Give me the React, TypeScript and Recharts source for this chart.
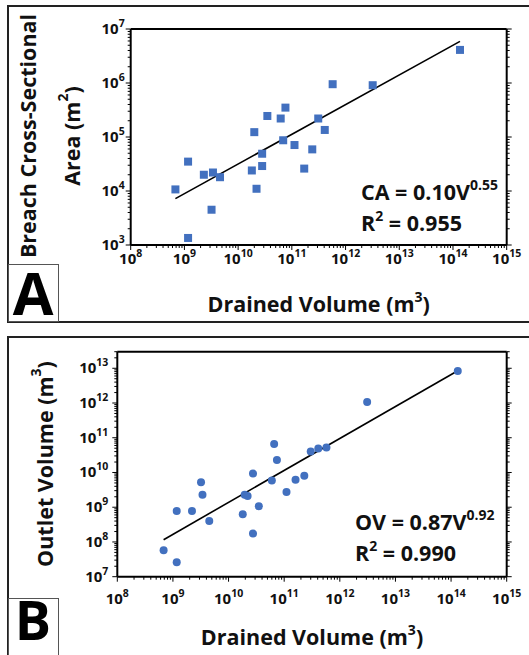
import React from 'react';
import { ScatterChart, Scatter, XAxis, YAxis } from 'recharts';

// ---------- data ----------
const drainedA = [6.8e8, 1.17e9, 2.3e9, 3.4e9, 4.6e9, 3.2e9, 1.17e9, 1.8e10, 2.0e10, 2.2e10, 2.8e10, 2.8e10, 3.5e10, 6.2e10, 6.9e10, 7.6e10, 1.12e11, 1.7e11, 2.4e11, 3.1e11, 4.1e11, 5.75e11, 3.2e12, 1.35e14];
const areaA = [1.07e4, 3.5e4, 2.0e4, 2.2e4, 1.8e4, 4.5e3, 1.35e3, 2.4e4, 1.23e5, 1.1e4, 4.9e4, 2.9e4, 2.45e5, 2.2e5, 8.7e4, 3.5e5, 7.1e4, 2.6e4, 5.9e4, 2.2e5, 1.35e5, 9.5e5, 9.1e5, 4.1e6];

const drainedB = [6.8e8, 1.17e9, 1.17e9, 2.2e9, 3.2e9, 3.4e9, 4.5e9, 1.8e10, 1.95e10, 2.2e10, 2.75e10, 2.75e10, 3.5e10, 6.0e10, 6.6e10, 7.4e10, 1.1e11, 1.6e11, 2.3e11, 3.0e11, 4.1e11, 5.75e11, 3.1e12, 1.32e14];
const outletB = [5.8e7, 2.6e7, 7.8e8, 7.8e8, 5.2e9, 2.3e9, 4.0e8, 6.3e8, 2.3e9, 2.1e9, 1.74e8, 9.3e9, 1.07e9, 5.9e9, 6.6e10, 2.3e10, 2.75e9, 6.2e9, 8.1e9, 4.0e10, 4.9e10, 5.2e10, 1.07e12, 8.3e12];

// fit lines: coefficient, exponent, x-range
const fitA = { coef: 0.10, exp: 0.55, from: 6.8e8, to: 1.35e14 };
const fitB = { coef: 0.87, exp: 0.92, from: 6.8e8, to: 1.32e14 };

const xDomain: [number, number] = [1e8, 1e15];
const yDomainA: [number, number] = [1e3, 1e7];
const yDomainB: [number, number] = [1e7, 3e13];

const xDecades = [8, 15];
const yDecadesA = [3, 7];
const yDecadesB = [7, 14];

// ---------- helpers ----------
const FONT = "'Open Sans', 'Noto Sans', sans-serif";
const BLUE = '#4270bf';

function logTicks(lo: number, hi: number, max: number) {
  const out: number[] = [];
  for (let d = lo; d <= hi; d++) {
    for (let m = 1; m < 10; m++) {
      const v = m * Math.pow(10, d);
      if (v <= max * 1.0001) out.push(v);
      if (d === hi) break;
    }
  }
  return out;
}

function isMajor(v: number) {
  const l = Math.log10(v);
  return Math.abs(l - Math.round(l)) < 1e-6;
}

type TickOpts = { side: 'bottom' | 'left' | 'top' | 'right'; label?: boolean; off?: number; fs?: number };

function makeTick(o: TickOpts) {
  return (props: any) => {
    const { x, y, payload } = props;
    const v = payload.value;
    const major = isMajor(v);
    const len = major ? 5 : 3;
    const e = Math.round(Math.log10(v));
    const fs = o.fs ?? 15;
    let line;
    if (o.side === 'bottom') line = <line x1={x} y1={y} x2={x} y2={y + len} stroke="#000" strokeWidth={1} />;
    else if (o.side === 'top') line = <line x1={x} y1={y} x2={x} y2={y - len} stroke="#000" strokeWidth={1} />;
    else if (o.side === 'left') line = <line x1={x} y1={y} x2={x - len} y2={y} stroke="#000" strokeWidth={1} />;
    else line = <line x1={x} y1={y} x2={x + len} y2={y} stroke="#000" strokeWidth={1} />;
    let label = null;
    if (o.label && major) {
      if (o.side === 'bottom') {
        label = (
          <text x={x} y={y + (o.off ?? 19)} textAnchor="middle" fontFamily={FONT} fontWeight={700} fontSize={fs} fill="#111">
            10<tspan dy={-7} fontSize={fs * 0.7}>{e}</tspan>
          </text>
        );
      } else {
        label = (
          <text x={x - (o.off ?? 7)} y={y + 5} textAnchor="end" fontFamily={FONT} fontWeight={700} fontSize={fs} fill="#111">
            10<tspan dy={-7} fontSize={fs * 0.7}>{e}</tspan>
          </text>
        );
      }
    }
    return (
      <g>
        {line}
        {label}
      </g>
    );
  };
}

const Square = (p: any) => <rect x={p.cx - 4} y={p.cy - 4} width={8} height={8} fill={BLUE} />;
const Dot = (p: any) => <circle cx={p.cx} cy={p.cy} r={4} fill={BLUE} />;
const NoShape = () => <g />;

const axisLine = { stroke: '#000', strokeWidth: 2 };

type PanelProps = {
  xs: number[];
  ys: number[];
  fit: { coef: number; exp: number; from: number; to: number };
  yDomain: [number, number];
  yDec: number[];
  margin: { top: number; right: number; bottom: number; left: number };
  height: number;
  shape: any;
  xOff: number;
  yOff: number;
  fs: number;
};

function Panel(p: PanelProps) {
  const data = p.xs.map((x, i) => ({ x, y: p.ys[i] }));
  const fitData = [p.fit.from, p.fit.to].map((x) => ({ x, y: p.fit.coef * Math.pow(x, p.fit.exp) }));
  const xt = logTicks(xDecades[0], xDecades[1], xDomain[1]);
  const yt = logTicks(p.yDec[0], p.yDec[1], p.yDomain[1]);
  return (
    <ScatterChart width={529} height={p.height} margin={p.margin}>
      <XAxis xAxisId="b" dataKey="x" type="number" scale="log" domain={xDomain} allowDataOverflow ticks={xt} interval={0}
        orientation="bottom" height={30} tickSize={0} tickMargin={0} axisLine={axisLine} tickLine={false}
        tick={makeTick({ side: 'bottom', label: true, off: p.xOff, fs: p.fs })} />
      <XAxis xAxisId="t" type="number" scale="log" domain={xDomain} allowDataOverflow ticks={xt} interval={0}
        orientation="top" height={10} tickSize={0} tickMargin={0} axisLine={axisLine} tickLine={false}
        tick={makeTick({ side: 'top' })} />
      <YAxis yAxisId="l" dataKey="y" type="number" scale="log" domain={p.yDomain} allowDataOverflow ticks={yt} interval={0}
        orientation="left" width={60} tickSize={0} tickMargin={0} axisLine={axisLine} tickLine={false}
        tick={makeTick({ side: 'left', label: true, off: p.yOff, fs: p.fs })} />
      <YAxis yAxisId="r" type="number" scale="log" domain={p.yDomain} allowDataOverflow ticks={yt} interval={0}
        orientation="right" width={10} tickSize={0} tickMargin={0} axisLine={axisLine} tickLine={false}
        tick={makeTick({ side: 'right' })} />
      <Scatter xAxisId="t" yAxisId="r" data={fitData} shape={NoShape} isAnimationActive={false} />
      <Scatter xAxisId="b" yAxisId="l" data={fitData} line={{ stroke: '#000', strokeWidth: 1.6 }} shape={NoShape} isAnimationActive={false} />
      <Scatter xAxisId="b" yAxisId="l" data={data} shape={p.shape} isAnimationActive={false} />
    </ScatterChart>
  );
}

const T = { fontFamily: FONT, fontWeight: 700, fill: '#111' } as const;
const TS = 21.5; // title size
const SS = 14; // superscript size

export default function App() {
  return (
    <div style={{ position: 'absolute', left: 0, top: 0, width: 529, height: 655, overflow: 'hidden', background: '#fff' }}>
      <div style={{ position: 'absolute', left: 0, top: 0 }}>
        <Panel xs={drainedA} ys={areaA} fit={fitA} yDomain={yDomainA} yDec={yDecadesA} height={330}
          margin={{ top: 19, right: 12.3, bottom: 55, left: 70.7 }} shape={Square} xOff={19} yOff={6} fs={15} />
      </div>
      <div style={{ position: 'absolute', left: 0, top: 320 }}>
        <Panel xs={drainedB} ys={outletB} fit={fitB} yDomain={yDomainB} yDec={yDecadesB} height={335}
          margin={{ top: 21.7, right: 12.3, bottom: 48.3, left: 57.3 }} shape={Dot} xOff={27} yOff={9} fs={15} />
      </div>
      <svg width={529} height={655} style={{ position: 'absolute', left: 0, top: 0, pointerEvents: 'none' }}>
        {/* frames */}
        <rect x={8} y={6} width={600} height={316} fill="none" stroke="#222" strokeWidth={2} />
        <rect x={8} y={337} width={600} height={400} fill="none" stroke="#222" strokeWidth={2} />
        <rect x={8.5} y={264.5} width={50} height={57} fill="none" stroke="#555" strokeWidth={1} />
        <rect x={8.5} y={598.5} width={50} height={80} fill="none" stroke="#555" strokeWidth={1} />
        <text x={33} y={315} textAnchor="middle" fontSize={59} {...T} fill="#000">A</text>
        <text x={33} y={640} textAnchor="middle" fontSize={54} {...T} fill="#000">B</text>

        {/* panel A texts */}
        <text x={27} y={136} transform="rotate(-90 27 136)" textAnchor="middle" dominantBaseline="central" fontSize={TS} {...T}>Breach Cross-Sectional</text>
        <text x={71} y={136} transform="rotate(-90 71 136)" textAnchor="middle" dominantBaseline="central" fontSize={TS} {...T}>
          Area (m<tspan dy={-9} fontSize={SS}>2</tspan><tspan dy={9}>)</tspan>
        </text>
        <text x={318.7} y={312} textAnchor="middle" fontSize={TS} {...T}>
          Drained Volume (m<tspan dy={-10} fontSize={SS}>3</tspan><tspan dy={10}>)</tspan>
        </text>
        <text x={361} y={200} fontSize={TS} {...T}>
          CA = 0.10V<tspan dy={-10} fontSize={SS}>0.55</tspan>
        </text>
        <text x={361} y={231} fontSize={TS} {...T}>
          R<tspan dy={-10} fontSize={SS}>2</tspan><tspan dy={10}> = 0.955</tspan>
        </text>

        {/* panel B texts */}
        <text x={44} y={464} transform="rotate(-90 44 464)" textAnchor="middle" dominantBaseline="central" fontSize={TS} {...T}>
          Outlet Volume (m<tspan dy={-9} fontSize={SS}>3</tspan><tspan dy={9}>)</tspan>
        </text>
        <text x={312} y={645} textAnchor="middle" fontSize={TS} {...T}>
          Drained Volume (m<tspan dy={-10} fontSize={SS}>3</tspan><tspan dy={10}>)</tspan>
        </text>
        <text x={355} y={530} fontSize={TS} {...T}>
          OV = 0.87V<tspan dy={-10} fontSize={SS}>0.92</tspan>
        </text>
        <text x={355} y={561} fontSize={TS} {...T}>
          R<tspan dy={-10} fontSize={SS}>2</tspan><tspan dy={10}> = 0.990</tspan>
        </text>
      </svg>
    </div>
  );
}
